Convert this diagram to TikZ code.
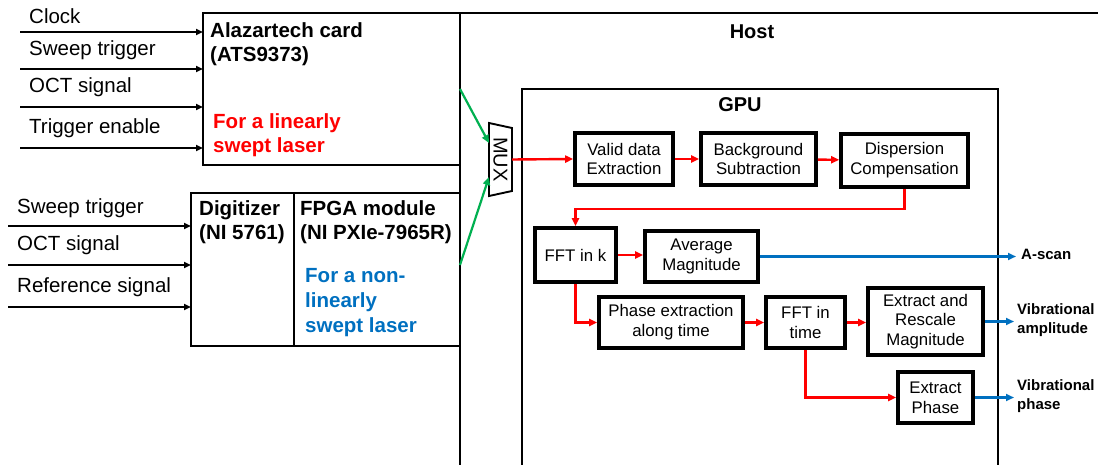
\documentclass[tikz,border=0pt]{standalone}
\usepackage{fontspec}
\setmainfont{Liberation Sans}
\usetikzlibrary{arrows.meta}

\definecolor{sigred}{RGB}{255,0,0}
\definecolor{outblue}{RGB}{0,112,192}
\definecolor{muxgreen}{RGB}{0,176,80}

\tikzset{
  inlabel/.style={anchor=west, inner sep=0pt, font=\fontsize{20.5}{24}\selectfont},
  sigin/.style={line width=2pt, -{Triangle[length=7pt,width=6pt]}},
  hwbox/.style={draw, line width=2.3pt, inner sep=0pt, outer sep=0pt},
  hwtitle/.style={anchor=west, inner sep=0pt, align=left,
                  font=\bfseries\fontsize{20.5}{24}\selectfont},
  frameline/.style={line width=2.3pt},
  procbox/.style={draw, line width=3.6pt, align=center, inner sep=0pt,
                  font=\fontsize{16.8}{19.8}\selectfont},
  flow/.style={sigred, line width=2.4pt, -{Triangle[length=8pt,width=7pt]}},
  outflow/.style={outblue, line width=2.4pt, -{Triangle[length=8pt,width=7pt]}},
  selflow/.style={muxgreen, line width=2.2pt, -{Triangle[length=8pt,width=7pt]}},
  outlabel/.style={anchor=west, inner sep=0pt, align=left,
                   font=\bfseries\fontsize{15}{19}\selectfont},
}

\begin{document}
\begin{tikzpicture}[x=1pt, y=-1pt]
\useasboundingbox (0,0) rectangle (1098,465);

% ---------- acquisition hardware ----------
\node[hwbox, minimum width=257pt, minimum height=152pt] (card) at (331.5,89) {};
\node[hwtitle] (cardname) at (210,44.5) {Alazartech card\\(ATS9373)};
\node[hwtitle, text=sigred] (cardnote) at (213,135) {For a linearly\\swept laser};

\node[hwbox, minimum width=103pt, minimum height=153pt] (digi) at (242.5,269.5) {};
\node[hwbox, minimum width=166pt, minimum height=153pt] (fpga) at (377,269.5) {};
\node[hwtitle] (diginame) at (199,222.5) {Digitizer\\(NI 5761)};
\node[hwtitle] (fpganame) at (300,222.5) {FPGA module\\(NI PXIe-7965R)};
\node[hwtitle, text=outblue, font=\bfseries\fontsize{20.5}{25}\selectfont]
  (fpganote) at (305,303) {For a non-\\linearly\\swept laser};

% ---------- input signals ----------
\node[inlabel] (lclock) at (29,16) {Clock};
\node[inlabel] (lsweepA) at (29,50) {Sweep trigger};
\node[inlabel] (loctA) at (29,87) {OCT signal};
\node[inlabel] (ltrig) at (29,128) {Trigger enable};
\coordinate (iclock) at (20,32);
\coordinate (isweepA) at (20,69);
\coordinate (ioctA) at (20,107);
\coordinate (itrig) at (20,148);
\foreach \c in {iclock,isweepA,ioctA,itrig}
  \draw[sigin] (\c) -- (\c -| card.west);

\node[inlabel] (lsweepB) at (17,208) {Sweep trigger};
\node[inlabel] (loctB) at (17,245) {OCT signal};
\node[inlabel] (lref) at (17,287) {Reference signal};
\coordinate (isweepB) at (8,226);
\coordinate (ioctB) at (8,265);
\coordinate (iref) at (8,307);
\foreach \c in {isweepB,ioctB,iref}
  \draw[sigin] (\c) -- (\c -| digi.west);

% ---------- host and GPU frames ----------
\draw[frameline] (card.north east) -- (1100,13);
\draw[frameline] (card.north east) -- (460,467);
\node[font=\bfseries\fontsize{20}{24}\selectfont] (host) at (752,32) {Host};

\draw[frameline] (522,467) |- (998,89) -- (998,467);
\node[font=\bfseries\fontsize{20}{24}\selectfont] (gpu) at (740,105) {GPU};

% ---------- multiplexer ----------
\node[minimum width=23pt, minimum height=73pt, inner sep=0pt, outer sep=0pt] (mux) at (500.5,159.5) {};
\draw[line width=1.9pt] (mux.north west) -- ([yshift=-5pt]mux.north east)
  -- ([yshift=5pt]mux.south east) -- (mux.south west) -- cycle;
\node[rotate=-90, inner sep=0pt, font=\fontsize{20}{22}\selectfont] (muxtext) at (mux) {MUX};

\draw[selflow] (card.east) -- ([yshift=16.5pt]mux.west);
\draw[selflow] ([yshift=4.5pt]fpga.east) -- ([yshift=-17.5pt]mux.west);

% ---------- GPU processing chain ----------
\node[procbox, minimum width=98pt, minimum height=52pt] (valid) at (624,159) {Valid data\\Extraction};
\node[procbox, minimum width=115pt, minimum height=52pt] (bg) at (758.5,159) {Background\\Subtraction};
\node[procbox, minimum width=127pt, minimum height=53pt] (disp) at (904.5,160.5) {Dispersion\\Compensation};
\node[procbox, minimum width=81pt, minimum height=54pt] (fftk) at (575.5,255) {FFT in k};
\node[procbox, minimum width=113pt, minimum height=51pt] (avg) at (701.5,256.5) {Average\\Magnitude};
\node[procbox, minimum width=144pt, minimum height=51pt] (phase) at (671,322.5) {Phase extraction\\along time};
\node[procbox, minimum width=79pt, minimum height=51pt] (fftt) at (805.5,322.5) {FFT in\\time};
\node[procbox, minimum width=115pt, minimum height=67pt] (rescale) at (925.5,321.5) {Extract and\\Rescale\\Magnitude};
\node[procbox, minimum width=75pt, minimum height=51pt] (extph) at (935.5,397.5) {Extract\\Phase};

\draw[flow] (mux.east) -- (valid.west);
\draw[flow] (valid) -- (bg);
\draw[flow] (bg) -- (disp);
\draw[flow] (disp.south) -- ++(0,20) -| (fftk.north);
\draw[flow] (fftk.east) -- (fftk.east -| avg.west);
\draw[flow] (fftk.south) |- (phase.west);
\draw[flow] (phase) -- (fftt);
\draw[flow] (fftt.east) -- (fftt.east -| rescale.west);
\draw[flow] (fftt.south) |- (extph.west);

% ---------- outputs ----------
\node[outlabel] (ascan) at (1021,254) {A-scan};
\node[outlabel] (vamp) at (1017,320.5) {Vibrational\\amplitude};
\node[outlabel] (vphase) at (1017,396.5) {Vibrational\\phase};

\draw[outflow] (avg.east) -- ([xshift=-5pt]ascan.west |- avg.east);
\draw[outflow] (rescale.east) -- ([xshift=-3pt]vamp.west |- rescale.east);
\draw[outflow] (extph.east) -- ([xshift=-3pt]vphase.west |- extph.east);
\end{tikzpicture}
\end{document}
